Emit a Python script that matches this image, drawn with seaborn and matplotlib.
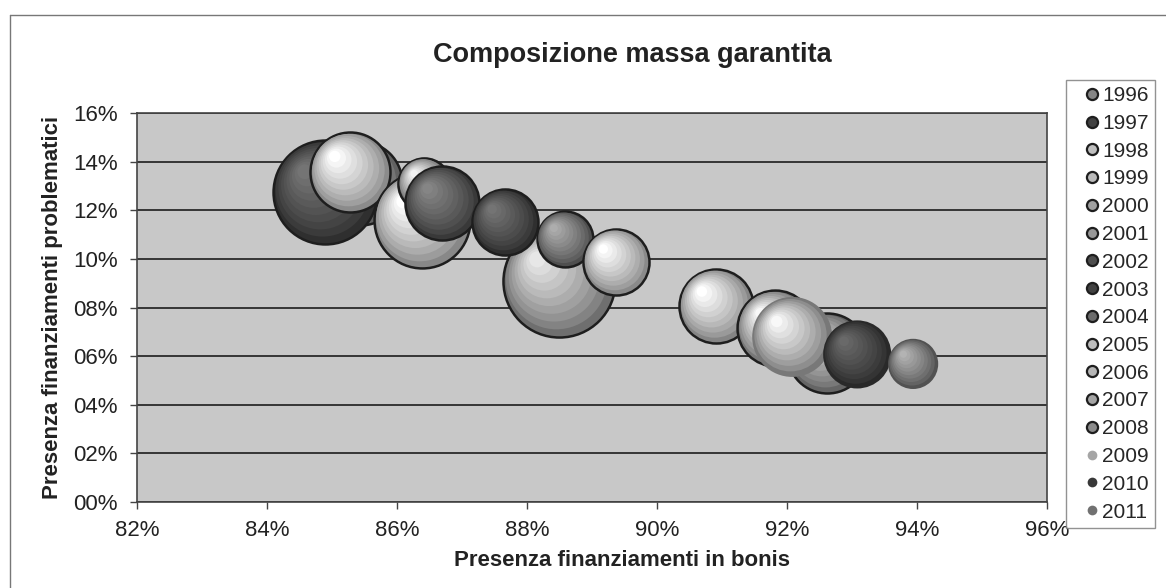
import numpy as np
import pandas as pd
import matplotlib
matplotlib.use('Agg')
import matplotlib.pyplot as plt
import matplotlib.transforms as mtransforms
from matplotlib.lines import Line2D
import seaborn as sbn

# Bubble data (x = bonis %, y = problematici %, size = relative mass)
years = ['1996', '1997', '1998', '1999', '2000', '2001', '2002', '2003',
         '2004', '2005', '2006', '2007', '2008', '2009', '2010', '2011']
bonis = [85.43, 84.89, 85.28, 86.38, 86.42, 88.49, 86.69, 87.66,
         88.58, 89.37, 90.91, 91.82, 92.62, 92.08, 93.08, 93.94]
problematici = [13.13, 12.76, 13.58, 11.60, 13.09, 9.09, 12.30, 11.52,
                10.82, 9.88, 8.07, 7.16, 6.13, 6.79, 6.07, 5.68]
massa = [176, 270, 160, 230, 68, 314, 137, 109,
         78, 109, 137, 144, 160, 160, 116, 63]
# grey level of each sphere (1 = white)
grey = [0.62, 0.30, 0.88, 0.86, 0.74, 0.70, 0.36, 0.30,
        0.50, 0.87, 0.84, 0.76, 0.64, 0.76, 0.26, 0.52]
outlined = [True] * 13 + [False] * 3

df = pd.DataFrame({'anno': years, 'bonis': bonis, 'problematici': problematici,
                   'massa': massa, 'grey': grey, 'outlined': outlined})

sbn.set_theme(style='white')
plt.rcParams['font.family'] = ['Liberation Sans', 'DejaVu Sans']

fig = plt.figure(figsize=(11.66, 5.88), dpi=100)
ax = fig.add_axes([137 / 1166, 1 - 502 / 588, 910 / 1166, 389 / 588])
ax.set_facecolor('#c8c8c8')

# size scale: massa -> marker area in pt^2 (radius px^2 * 10 at 100 dpi)
scale = 10 * (2 * 0.72) ** 2
n_layers = 9
for i, row in df.iterrows():
    g = row['grey']
    rim = g * 0.62
    top = min(1.0, g * 1.12 + 0.12)
    s = row['massa'] * scale
    z = 3 + i
    sbn.scatterplot(data=df.iloc[[i]], x='bonis', y='problematici', ax=ax,
                    s=s, color=str(rim),
                    edgecolor='#1e1e1e' if row['outlined'] else 'none',
                    linewidth=1.8 if row['outlined'] else 0,
                    legend=False, zorder=z)
    r_pt = np.sqrt(s) / 2
    for k in range(1, n_layers + 1):
        f = 1 - k / (n_layers + 1.5)
        c = rim + (top - rim) * (k / n_layers) ** 0.8
        off = (1 - f) * r_pt * 0.45
        tr = ax.transData + mtransforms.ScaledTranslation(-off / 72, off / 72, fig.dpi_scale_trans)
        ax.scatter([row['bonis']], [row['problematici']], s=s * f ** 2,
                   color=str(c), edgecolor='none', transform=tr, zorder=z + k * 0.05)

ax.set_xlim(82, 96)
ax.set_ylim(0, 16)
ax.set_xticks(np.arange(82, 97, 2))
ax.set_yticks(np.arange(0, 17, 2))
ax.set_xticklabels([f'{v}%' for v in range(82, 97, 2)])
ax.set_yticklabels([f'{v:02d}%' for v in range(0, 17, 2)])
ax.tick_params(axis='both', labelsize=16, length=5, width=1, color='#444',
               direction='out', bottom=True, left=True, labelcolor='#222')
ax.tick_params(axis='y', pad=9)
ax.tick_params(axis='x', pad=8)
ax.yaxis.grid(True, color='#2a2a2a', linewidth=1.3)
ax.xaxis.grid(False)
ax.set_axisbelow(True)
for sp in ax.spines.values():
    sp.set_color('#444')
    sp.set_linewidth(1.2)

ax.set_xlabel('Presenza finanziamenti in bonis', fontsize=16, fontweight='bold',
              color='#222')
ax.xaxis.set_label_coords((622 - 137) / 910, -(560 - 502) / 389)
ax.xaxis.label.set_va('center')
ax.set_ylabel('Presenza finanziamenti problematici', fontsize=16, fontweight='bold',
              color='#222')
ax.yaxis.set_label_coords(-(137 - 53) / 910, 0.5)
ax.yaxis.label.set_va('center')
fig.text(632 / 1166, 1 - 55 / 588, 'Composizione massa garantita', ha='center',
         va='center', fontsize=19.5, fontweight='bold', color='#222')

# legend
handles = []
for i, row in df.iterrows():
    if row['outlined']:
        h = Line2D([], [], linestyle='none', marker='o', markersize=8,
                   markerfacecolor=str(row['grey'] * 0.85), markeredgecolor='#1e1e1e',
                   markeredgewidth=1.6)
    else:
        h = Line2D([], [], linestyle='none', marker='o', markersize=7,
                   markerfacecolor=str(row['grey'] * 0.85), markeredgecolor='none')
    handles.append(h)
leg = fig.legend(handles, years, loc='upper left',
                 bbox_to_anchor=(1066 / 1166, 1 - 80 / 588), fontsize=15,
                 frameon=True, fancybox=False, handlelength=1.9, handletextpad=-0.45,
                 labelspacing=0.42, borderpad=0.3, borderaxespad=0)
leg.get_frame().set_edgecolor('#777')
leg.get_frame().set_linewidth(1)

# outer chart border
fig.add_artist(Line2D([10 / 1166, 1], [1 - 15 / 588] * 2, transform=fig.transFigure,
                      color='#777', linewidth=1))
fig.add_artist(Line2D([10 / 1166] * 2, [0, 1 - 15 / 588], transform=fig.transFigure,
                      color='#777', linewidth=1))

fig.savefig('out.png', dpi=100)
